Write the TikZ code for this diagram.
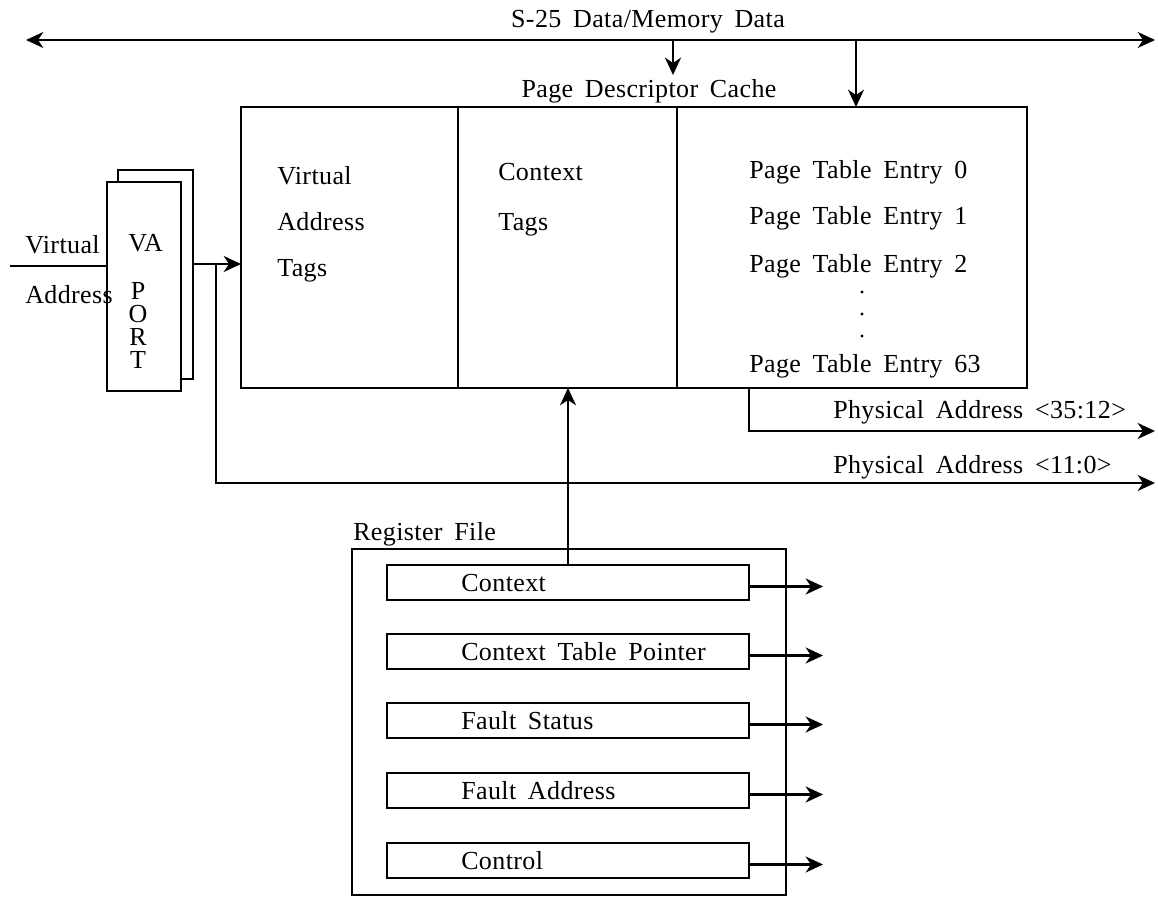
\documentclass[tikz,border=0pt]{standalone}
\usepackage{fontspec}
\setmainfont{Liberation Serif}[LetterSpace=1.5]
\usetikzlibrary{arrows.meta}
\newcommand{\dfont}{\fontsize{19.5}{21}\selectfont\spaceskip=0.45em plus 0.1em\relax}
\tikzset{
  box/.style={draw, line width=1.8pt, inner sep=0pt, outer sep=0pt, anchor=north west},
  txt/.style={font=\dfont, inner sep=0pt, anchor=west, text height=13pt, text depth=0pt},
  ctxt/.style={font=\dfont, inner sep=0pt, anchor=center, text height=13pt, text depth=0pt},
  conn/.style={line width=1.8pt},
  tip/.tip={Stealth[length=13pt,width=12pt,inset=4pt]},
  arr/.style={line width=1.8pt, -tip},
  dot/.style={circle, fill, inner sep=0pt, minimum size=2.6pt}
}
\begin{document}
\begin{tikzpicture}[x=0.75pt,y=-0.75pt]
\useasboundingbox (0,0) rectangle (1158,898);

% bus
\coordinate (busL) at (26,40);
\coordinate (busR) at (1155,40);
\draw[line width=1.8pt, tip-tip] (busL) -- (busR);
\node[ctxt] (buslbl) at (648,19) {S-25 Data/Memory Data};

% page descriptor cache
\node[ctxt] (pdclbl) at (649,89) {Page Descriptor Cache};
\node[box, minimum width=162.75pt, minimum height=210.75pt] (vatags) at (241,107) {};
\node[box, minimum width=164.25pt, minimum height=210.75pt] (ctxtags) at (458,107) {};
\node[box, minimum width=262.5pt, minimum height=210.75pt] (pte) at (677,107) {};

\coordinate (a1) at (673,75);
\draw[arr] (a1 |- busL) -- (a1);
\coordinate (a2) at (856,40);
\draw[arr] (a2) -- (a2 |- pte.north);

\node[txt] (vt1) at (277,176) {Virtual};
\node[txt] (vt2) at (277,222) {Address};
\node[txt] (vt3) at (277,268) {Tags};
\node[txt] (ct1) at (498,172) {Context};
\node[txt] (ct2) at (498,222) {Tags};
\node[txt] (p0) at (749,170) {Page Table Entry 0};
\node[txt] (p1) at (749,216) {Page Table Entry 1};
\node[txt] (p2) at (749,264) {Page Table Entry 2};
\node[dot] (d1) at (862,292) {};
\node[dot] (d2) at (862,314) {};
\node[dot] (d3) at (862,336) {};
\node[txt] (p63) at (749,364) {Page Table Entry 63};

% VA port
\node[box, minimum width=56.25pt, minimum height=156.75pt] (vaback) at (118,170) {};
\node[box, fill=white, minimum width=55.5pt, minimum height=156.75pt] (vafront) at (107,182) {};
\node[txt] (va) at (128,243) {VA};
\node[font={\fontsize{19.5}{17.25}\selectfont}, inner sep=0pt, align=center, anchor=north] (port) at (138,282) {P\\O\\R\\T};
\node[txt] (vin1) at (25,245) {Virtual};
\node[txt] (vin2) at (25,295) {Address};
\coordinate (vin) at (10,266);
\draw[conn] (vin) -- (vafront.west |- vin);

\coordinate (br) at (216,264);
\draw[arr] (vaback.east |- br) -- (vatags.west |- br);
\coordinate (pa2) at (1155,483);
\draw[arr] (br) |- (pa2);
\node[txt] (pa2lbl) at (833,465) {Physical Address <11:0>};

\coordinate (pa1c) at (749,431);
\coordinate (pa1) at (1155,431);
\draw[arr] (pa1c |- pte.south) -- (pa1c) -- (pa1);
\node[txt] (pa1lbl) at (833,410) {Physical Address <35:12>};

% register file
\node[txt] (rflbl) at (353,532) {Register File};
\node[box, minimum width=325.5pt, minimum height=259.5pt] (rf) at (352,549) {};
\node[box, minimum width=271.5pt, minimum height=26.25pt] (r1) at (387,565) {};
\node[box, minimum width=271.5pt, minimum height=26.25pt] (r2) at (387,634) {};
\node[box, minimum width=271.5pt, minimum height=26.25pt] (r3) at (387,703) {};
\node[box, minimum width=271.5pt, minimum height=26.25pt] (r4) at (387,773) {};
\node[box, minimum width=271.5pt, minimum height=26.25pt] (r5) at (387,843) {};
\node[txt] (t1) at (461,582.5) {Context};
\node[txt] (t2) at (461,651.5) {Context Table Pointer};
\node[txt] (t3) at (461,720.5) {Fault Status};
\node[txt] (t4) at (461,790.5) {Fault Address};
\node[txt] (t5) at (461,860.5) {Control};
\foreach \r in {r1,r2,r3,r4,r5}
  \draw[arr] ([yshift=-3pt]\r.east) -- ++(74,0);

\coordinate (cx) at (568,0);
\draw[arr] (r1.north -| cx) -- (ctxtags.south -| cx);
\end{tikzpicture}
\end{document}
